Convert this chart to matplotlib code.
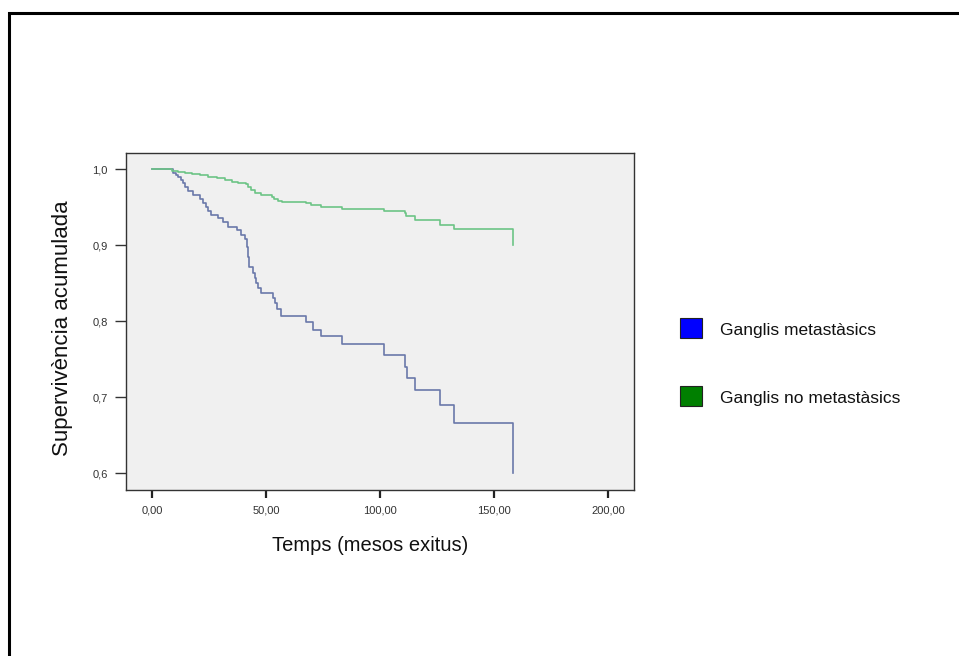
import matplotlib
matplotlib.use("Agg")
import matplotlib.pyplot as plt
from matplotlib.patches import Rectangle
from matplotlib.ticker import FixedLocator

plt.rcParams['font.family'] = ['Liberation Sans', 'DejaVu Sans']

# Kaplan-Meier step data (time in months, cumulative survival)
t_metastasics = [0.0, 9.3, 10.5, 11.5, 12.7, 13.7, 14.5, 15.9, 17.8, 21.0, 22.5, 23.6, 24.4,
                 25.7, 28.8, 31.2, 33.4, 37.1, 38.8, 40.7, 41.5, 41.9, 42.6, 44.4, 45.1,
                 45.8, 46.6, 48.0, 53.1, 53.9, 54.6, 56.4, 67.7, 70.4, 74.3, 83.4, 101.6,
                 110.8, 112.0, 115.2, 126.1, 132.4, 158.2]
s_metastasics = [1.0, 0.9956, 0.9925, 0.9895, 0.986, 0.9816, 0.9763, 0.9715, 0.9662, 0.9605,
                 0.9553, 0.950, 0.9452, 0.940, 0.9355, 0.9311, 0.9246, 0.9197, 0.9136, 0.9079,
                 0.8982, 0.885, 0.871, 0.8632, 0.8566, 0.850, 0.8434, 0.8368, 0.8311, 0.8237,
                 0.8158, 0.807, 0.7987, 0.7886, 0.7807, 0.7702, 0.7557, 0.7404, 0.725, 0.7096,
                 0.6895, 0.6667, 0.601]

t_no_metastasics = [0.0, 8.6, 11.5, 14.5, 17.4, 21.0, 24.7, 28.3, 32.0, 35.0, 37.8, 41.2,
                    42.2, 43.2, 45.1, 48.0, 52.4, 53.4, 55.3, 56.8, 67.3, 69.9, 74.3, 83.5,
                    101.6, 110.8, 111.5, 115.2, 126.1, 132.4, 158.2]
s_no_metastasics = [1.0, 0.998, 0.997, 0.9956, 0.9939, 0.9925, 0.9904, 0.988, 0.986, 0.9838,
                    0.982, 0.980, 0.9763, 0.9728, 0.9693, 0.9662, 0.964, 0.9614, 0.9588,
                    0.9575, 0.9553, 0.9531, 0.9509, 0.9482, 0.9452, 0.943, 0.939, 0.9335,
                    0.9263, 0.921, 0.901]

x_ticks = [0, 50, 100, 150, 200]
x_ticklabels = ["0,00", "50,00", "100,00", "150,00", "200,00"]
y_ticks = [0.6, 0.7, 0.8, 0.9, 1.0]
y_ticklabels = ["0,6", "0,7", "0,8", "0,9", "1,0"]

legend_labels = ["Ganglis metastàsics", "Ganglis no metastàsics"]
legend_colors = ["#0000FF", "#007F00"]
line_colors = ["#6A78AA", "#6CC486"]

fig = plt.figure(figsize=(9.59, 6.56), dpi=100)
fig.patch.set_facecolor("white")

ax = fig.add_axes([126/959, 1-490/656, (634-126)/959, (490-153)/656])
ax.set_facecolor("#F0F0F0")

ax.step(t_metastasics, s_metastasics, where="post", color=line_colors[0], lw=1.2)
ax.step(t_no_metastasics, s_no_metastasics, where="post", color=line_colors[1], lw=1.2)

ax.set_xlim(-11.4, 211.3)
ax.set_ylim(0.578, 1.0214)
ax.xaxis.set_major_locator(FixedLocator(x_ticks))
ax.set_xticklabels(x_ticklabels)
ax.yaxis.set_major_locator(FixedLocator(y_ticks))
ax.set_yticklabels(y_ticklabels)
ax.tick_params(axis="y", direction="out", length=8, width=1, color="#333333",
               labelsize=8, labelcolor="#333333", pad=5)
ax.tick_params(axis="x", direction="out", length=6, width=1.6, color="#222222",
               labelsize=8, labelcolor="#333333", pad=5)
for sp in ax.spines.values():
    sp.set_color("#333333")
    sp.set_linewidth(1.0)

ax.set_xlabel("Temps (mesos exitus)", fontsize=14.5, color="#111111")
ax.xaxis.set_label_coords((370-126)/508, -(536-490)/337)
ax.set_ylabel("Supervivència acumulada", fontsize=16, color="#111111")
ax.yaxis.set_label_coords(-(126-73)/508, 0.48)

# legend
for i, (lab, col) in enumerate(zip(legend_labels, legend_colors)):
    yc = 328 + i * 68
    fig.add_artist(Rectangle((680/959, 1-(yc+10)/656), 22/959, 20/656,
                             transform=fig.transFigure, facecolor=col,
                             edgecolor="#222222", lw=0.8))
    fig.text(720/959, 1-(yc+2)/656, lab, fontsize=12.5, va="center", ha="left", color="#111111")

# outer border
fig.add_artist(Rectangle((9/959, -0.05), 1.1, 1-13/656+0.05, transform=fig.transFigure,
                         fill=False, edgecolor="black", lw=2.2))

fig.savefig("out.png", dpi=100)
